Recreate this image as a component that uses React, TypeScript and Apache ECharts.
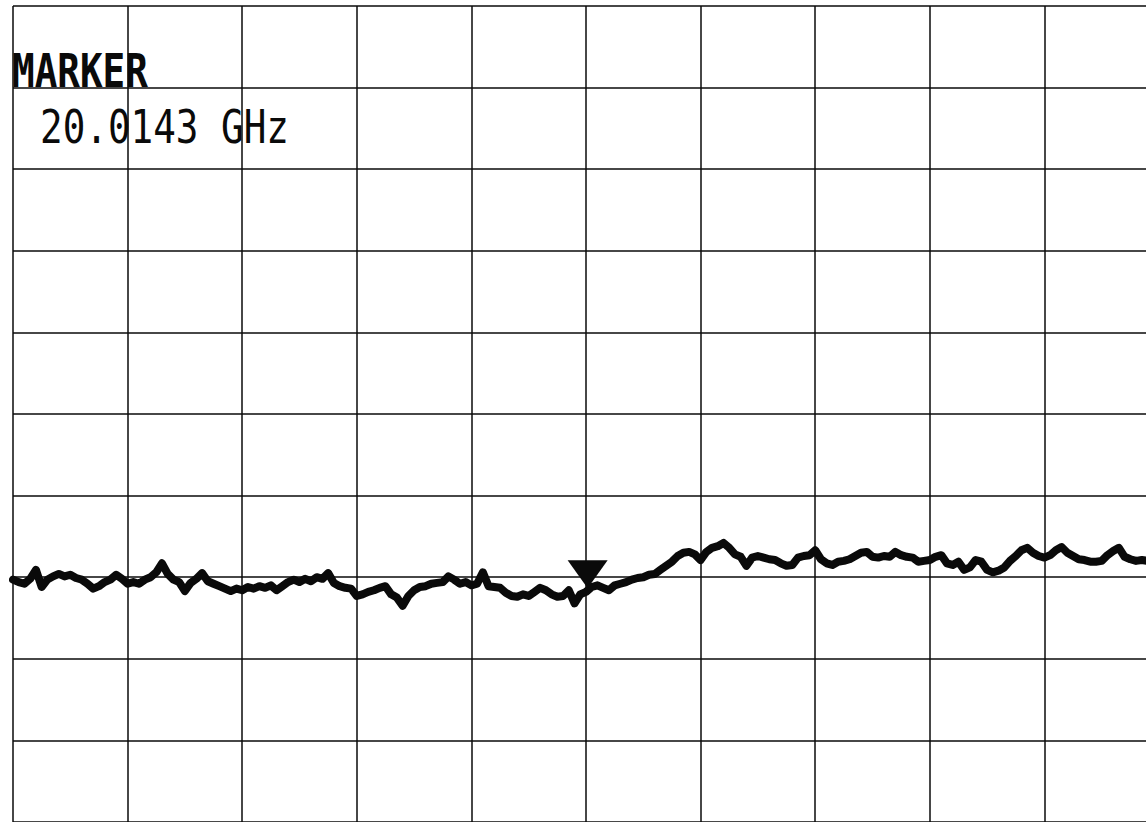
import React, { useEffect, useRef } from "react";
import * as echarts from "echarts";

// Sweep: 15.00 GHz to 25.00 GHz, 10 dB/div, reference level 0 dBm at top
const startGHz = 15;
const stepGHz = 0.05;
const freqTicks = [15, 16, 17, 18, 19, 20, 21, 22, 23, 24, 25];
const levelTicks = [0, -10, -20, -30, -40, -50, -60, -70, -80, -90, -100];

const markerLabel = "MARKER";
const markerReadout = "20.0143 GHz";
const markerFreq = 20.0143;
const markerLevel = -71.1;

// trace levels (dBm), one every 0.05 GHz
const traceLevels = [
  -70.3, -70.6, -70.8, -70.2, -69.1, -71.2, -70.3, -69.9, -69.6, -69.9,
  -69.7, -70.1, -70.3, -70.8, -71.4, -71.1, -70.6, -70.3, -69.7, -70.2,
  -70.8, -70.6, -70.8, -70.3, -70.0, -69.4, -68.3, -69.6, -70.3, -70.6,
  -71.7, -70.7, -70.2, -69.5, -70.5, -70.8, -71.1, -71.4, -71.7, -71.4,
  -71.6, -71.2, -71.4, -71.1, -71.3, -71.0, -71.6, -71.1, -70.6, -70.3,
  -70.6, -70.2, -70.5, -70.0, -70.2, -69.5, -70.7, -71.1, -71.3, -71.4,
  -72.3, -72.1, -71.8, -71.6, -71.3, -71.1, -72.1, -72.5, -73.5, -72.3,
  -71.6, -71.2, -71.1, -70.8, -70.7, -70.6, -69.9, -70.3, -70.8, -70.6,
  -71.0, -70.8, -69.4, -71.1, -71.2, -71.3, -71.9, -72.3, -72.4, -72.1,
  -72.3, -71.8, -71.3, -71.6, -72.1, -72.4, -72.3, -71.6, -73.2, -72.1,
  -71.8, -71.2, -71.0, -71.3, -71.6, -71.0, -70.8, -70.6, -70.3, -70.1,
  -70.0, -69.7, -69.6, -69.1, -68.6, -68.1, -67.4, -67.0, -66.9, -67.2,
  -67.9, -66.9, -66.4, -66.2, -65.8, -66.4, -67.2, -67.5, -68.6, -67.6,
  -67.4, -67.6, -67.8, -67.9, -68.3, -68.6, -68.5, -67.6, -67.4, -67.3,
  -66.7, -67.8, -68.3, -68.5, -68.1, -68.0, -67.8, -67.4, -67.0, -66.9,
  -67.5, -67.6, -67.4, -67.5, -66.9, -67.3, -67.5, -67.6, -68.1, -68.0,
  -67.9, -67.5, -67.3, -68.3, -68.5, -68.1, -69.1, -68.8, -67.9, -68.1,
  -69.1, -69.4, -69.2, -68.8, -68.0, -67.4, -66.7, -66.4, -67.0, -67.4,
  -67.6, -67.3, -66.7, -66.3, -67.0, -67.4, -67.8, -67.9, -68.1, -68.1,
  -68.0, -67.3, -66.8, -66.4, -67.5, -67.8, -68.0, -67.9, -68.0, -67.9,
  -67.9,
];

const INK = "#0a0a0a";

export default function App() {
  const ref = useRef<HTMLDivElement>(null);

  useEffect(() => {
    document.body.style.margin = "0";
    if (!ref.current) return;
    const chart = echarts.init(ref.current, undefined, { renderer: "svg" });
    const data = traceLevels.map((v, i) => [
      +(startGHz + i * stepGHz).toFixed(2),
      v,
    ]);
    chart.setOption({
      animation: false,
      backgroundColor: "#ffffff",
      grid: { left: 13, top: 6, width: 1146, height: 816, containLabel: false },
      xAxis: {
        type: "value",
        min: freqTicks[0],
        max: freqTicks[freqTicks.length - 1],
        interval: 1,
        axisLine: { show: false },
        axisTick: { show: false },
        axisLabel: { show: false },
        splitLine: { show: true, lineStyle: { color: INK, width: 1.5 } },
      },
      yAxis: {
        type: "value",
        min: levelTicks[levelTicks.length - 1],
        max: levelTicks[0],
        interval: 10,
        axisLine: { show: false },
        axisTick: { show: false },
        axisLabel: { show: false },
        splitLine: { show: true, lineStyle: { color: INK, width: 1.5 } },
      },
      series: [
        {
          type: "line",
          data,
          showSymbol: false,
          smooth: false,
          lineStyle: { color: INK, width: 8, join: "round", cap: "round" },
          markPoint: {
            symbol: "triangle",
            symbolRotate: 180,
            symbolSize: [40, 28],
            symbolOffset: [0, -12],
            itemStyle: { color: INK },
            label: { show: false },
            data: [{ coord: [markerFreq, markerLevel] }],
          },
        },
      ],
      graphic: [
        {
          type: "text",
          left: 12,
          top: 47,
          scaleX: 0.8,
          style: {
            text: markerLabel,
            font: "bold 47px 'DejaVu Sans Mono'",
            fill: INK,
          },
        },
        {
          type: "text",
          left: 40,
          top: 103,
          scaleX: 0.8,
          style: {
            text: markerReadout,
            font: "normal 47px 'DejaVu Sans Mono'",
            fill: INK,
          },
        },
      ],
    });
    return () => chart.dispose();
  }, []);

  return (
    <div
      style={{ position: "fixed", left: 0, top: 0, width: 1146, height: 822, overflow: "hidden", background: "#fff" }}
    >
      <div ref={ref} style={{ width: 1160, height: 824 }} />
    </div>
  );
}
